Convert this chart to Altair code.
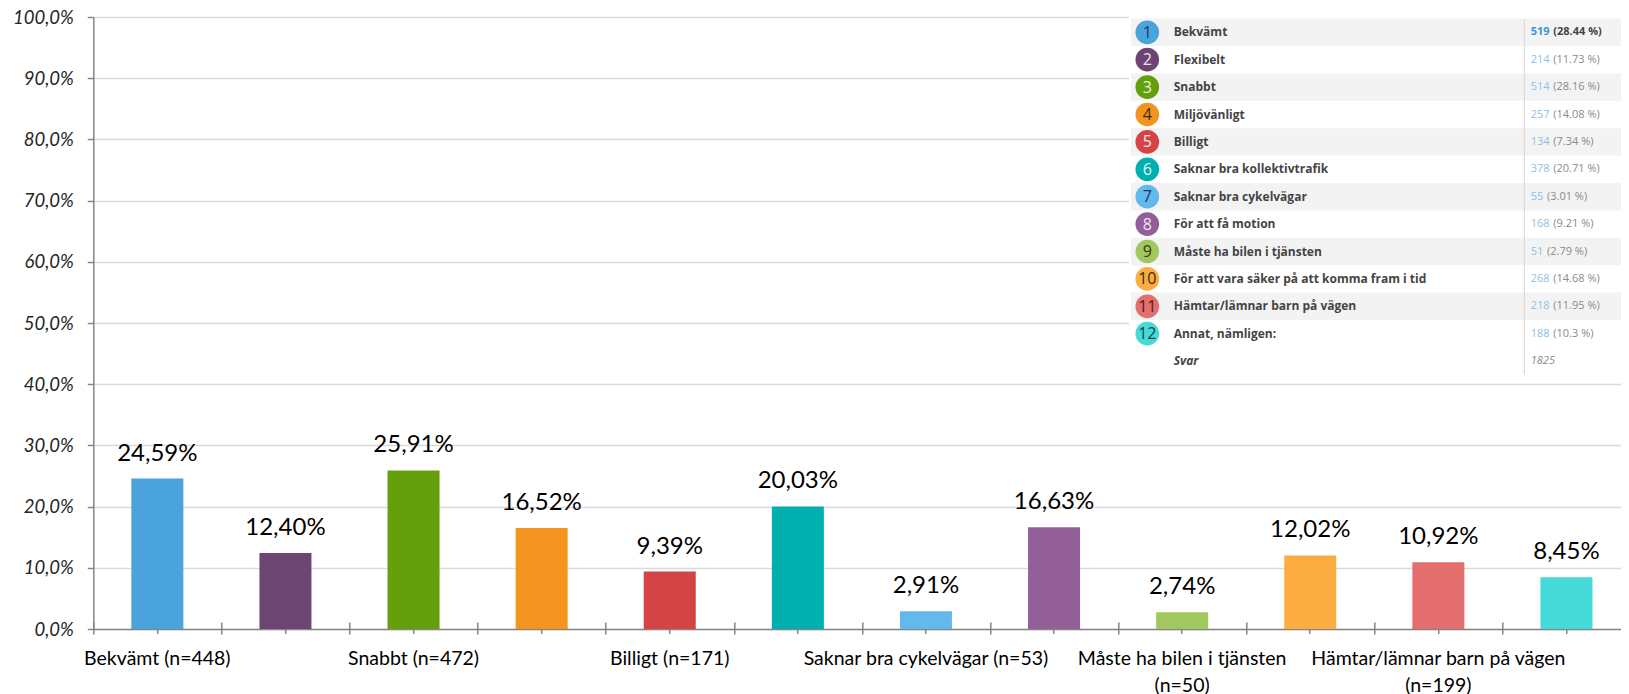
import altair as alt
import pandas as pd
import json

# ---------------- data ----------------
categories = [
    "Bekvämt", "Flexibelt", "Snabbt", "Miljövänligt", "Billigt",
    "Saknar bra kollektivtrafik", "Saknar bra cykelvägar", "För att få motion",
    "Måste ha bilen i tjänsten", "För att vara säker på att komma fram i tid",
    "Hämtar/lämnar barn på vägen", "Annat, nämligen:",
]
axis_labels = [
    "Bekvämt (n=448)", "", "Snabbt (n=472)", "", "Billigt (n=171)", "",
    "Saknar bra cykelvägar (n=53)", "", "Måste ha bilen i tjänsten|(n=50)", "",
    "Hämtar/lämnar barn på vägen|(n=199)", "",
]
shares = [24.59, 12.40, 25.91, 16.52, 9.39, 20.03, 2.91, 16.63, 2.74, 12.02, 10.92, 8.45]
y_ticks = [0.0, 0.1, 0.2, 0.3, 0.4, 0.5, 0.6, 0.7, 0.8, 0.9, 1.0]

table_counts = [519, 214, 514, 257, 134, 378, 55, 168, 51, 268, 218, 188]
table_pcts = ["28.44", "11.73", "28.16", "14.08", "7.34", "20.71", "3.01", "9.21",
              "2.79", "14.68", "11.95", "10.3"]
total_label = "Svar"
total_answers = 1825

# ---------------- styles ----------------
bar_colors = ["#4aa3da", "#6d4572", "#649f0e", "#f39421", "#d44446", "#00afaf",
              "#62b9ec", "#935f99", "#a2c75e", "#fbad42", "#e46d6d", "#45d9d8"]
circle_text_colors = ["#1d3557", "#ece2ee", "#e8f3d6", "#3b2a12", "#fbe4e4", "#e6f8f8",
                      "#1d3557", "#f1e6f3", "#2e3d12", "#3b2a12", "#4a1c1c", "#0f4545"]
AXIS_GREY = "#868686"
FONT = "Lato"
TFONT = "Open Sans"

df = pd.DataFrame({
    "cat": categories,
    "share": [s / 100 for s in shares],
    "color": bar_colors,
    "lbl": [f"{s:.2f}".replace(".", ",") + "%" for s in shares],
})

rows = list(range(len(categories) + 1))
dft = pd.DataFrame({
    "row": rows,
    "name": categories + [total_label],
    "num": [str(i + 1) for i in range(len(categories))] + [""],
    "count": [str(c) for c in table_counts] + [str(total_answers)],
    "pct": [f"({p} %)" for p in table_pcts] + [""],
    "ccolor": bar_colors + ["#ffffff"],
    "ntcolor": circle_text_colors + ["#ffffff"],
})

# ---------------- main chart ----------------
label_expr = (
    f"split({json.dumps(axis_labels, ensure_ascii=False)}"
    f"[indexof({json.dumps(categories, ensure_ascii=False)}, datum.value)], '|')"
)

xscale = alt.Scale(domain=categories, range=[0, 1537.2], paddingInner=0, paddingOuter=0)

x_main = alt.X("cat:N", sort=None, scale=xscale, title=None, axis=alt.Axis(
    orient="bottom", labelExpr=label_expr, labelFont=FONT, labelFontSize=19.5,
    labelColor="#000000", labelPadding=20, labelLineHeight=27, labelLimit=500,
    labelOverlap=False, labelAngle=0, ticks=False, tickSize=0,
    domainColor=AXIS_GREY, domainWidth=1.5, grid=False))
x_bound = alt.X("cat:N", sort=None, scale=xscale, title=None, axis=alt.Axis(
    orient="bottom", labels=False, domain=False, grid=False, ticks=True,
    tickBand="extent", tickSize=12, offset=-7, tickColor=AXIS_GREY, tickWidth=1.5))
x_center = alt.X("cat:N", sort=None, scale=xscale, title=None, axis=alt.Axis(
    orient="bottom", labels=False, domain=False, grid=False, ticks=True,
    tickBand="center", tickSize=10, offset=-5.5, tickColor=AXIS_GREY, tickWidth=1.5))

y_enc = alt.Y("share:Q", scale=alt.Scale(domain=[0, 1], nice=False, zero=True), title=None,
              axis=alt.Axis(values=y_ticks,
                            labelExpr="replace(format(datum.value, '.1%'), '.', ',')",
                            labelFont=FONT, labelFontStyle="italic", labelFontSize=18.5,
                            labelColor="#262626", labelPadding=14, tickSize=6,
                            tickColor=AXIS_GREY, tickWidth=1.5, domainColor=AXIS_GREY,
                            domainWidth=1.5, grid=True, gridColor="#d9d9d9", gridWidth=1.3,
                            zindex=0))

bars = alt.Chart(df).mark_bar(width=alt.RelativeBandSize(0.406)).encode(
    x=x_main, y=y_enc, color=alt.Color("color:N", scale=None))
values = alt.Chart(df).mark_text(baseline="alphabetic", dy=-18, font=FONT, fontSize=24,
                                 color="#000000").encode(x=x_bound, y=y_enc, text="lbl:N")
ghost = alt.Chart(df).mark_bar(opacity=0, width=alt.RelativeBandSize(0.406)).encode(
    x=x_center, y=y_enc)

main = alt.layer(bars, values, ghost).resolve_axis(x="independent")

# ---------------- response table overlay ----------------
ty = alt.Y("row:O", title=None, axis=None,
           scale=alt.Scale(type="band", domain=rows, range=[1.6, 357.8],
                           paddingInner=0, paddingOuter=0))
base_t = alt.Chart(dft)

panel = alt.Chart(pd.DataFrame({"k": [0]})).mark_rect(color="#ffffff").encode(
    x=alt.value(1035.7), x2=alt.value(1560), y=alt.value(-9.5), y2=alt.value(362))
stripes = base_t.transform_filter("datum.row % 2 == 0 && datum.row < 12").mark_rect(
    color="#f3f3f3").encode(x=alt.value(1037.7), x2=alt.value(1560), y=ty)
sep = alt.Chart(pd.DataFrame({"k": [0]})).mark_rule(color="#d4d4d4", strokeWidth=1).encode(
    x=alt.value(1431), y=alt.value(2.3), y2=alt.value(357.8))
circles = base_t.transform_filter("datum.row < 12").mark_circle(size=560, opacity=1).encode(
    x=alt.value(1054), y=ty, color=alt.Color("ccolor:N", scale=None))
nums = base_t.transform_filter("datum.row < 12").mark_text(
    font=TFONT, fontSize=16, align="center", baseline="middle", dy=0.5).encode(
    x=alt.value(1054), y=ty, text="num:N", color=alt.Color("ntcolor:N", scale=None))
names = base_t.transform_filter("datum.row < 12").mark_text(
    font=TFONT, fontSize=12, fontWeight="bold", align="left", baseline="middle",
    color="#444444").encode(x=alt.value(1080.4), y=ty, text="name:N")
svar = base_t.transform_filter("datum.row == 12").mark_text(
    font=TFONT, fontSize=12, fontWeight="bold", fontStyle="italic", align="left",
    baseline="middle", color="#444444").encode(x=alt.value(1080.4), y=ty, text="name:N")
count_top = base_t.transform_filter("datum.row == 0").mark_text(
    font=TFONT, fontSize=11, fontWeight="bold", align="left", baseline="middle",
    color="#3b93d3").encode(x=alt.value(1437.4), y=ty, text="count:N")
counts = base_t.transform_filter("datum.row > 0 && datum.row < 12").mark_text(
    font=TFONT, fontSize=11, align="left", baseline="middle",
    color="#8cc1e8").encode(x=alt.value(1437.4), y=ty, text="count:N")
total = base_t.transform_filter("datum.row == 12").mark_text(
    font=TFONT, fontSize=11, fontStyle="italic", align="left", baseline="middle",
    color="#8a8a8a").encode(x=alt.value(1437.4), y=ty, text="count:N")
pct_top = base_t.transform_filter("datum.row == 0").transform_calculate(
    px="1441.1 + 6.3 * length(datum.count)").mark_text(
    font=TFONT, fontSize=11, fontWeight="bold", align="left", baseline="middle",
    color="#444444").encode(x=alt.X("px:Q", scale=None), y=ty, text="pct:N")
pcts = base_t.transform_filter("datum.row > 0 && datum.row < 12").transform_calculate(
    px="1441.1 + 6.3 * length(datum.count)").mark_text(
    font=TFONT, fontSize=11, align="left", baseline="middle",
    color="#8a8a8a").encode(x=alt.X("px:Q", scale=None), y=ty, text="pct:N")

table = alt.layer(panel, stripes, sep, circles, nums, names, svar,
                  count_top, counts, total, pct_top, pcts)

chart = alt.layer(main, table).resolve_scale(x="independent", y="independent").properties(
    width=1527.7, height=612,
    padding={"left": 85.3, "top": 9, "right": 0, "bottom": 65},
    autosize=alt.AutoSizeParams(type="none"),
    background="#ffffff",
).configure_view(stroke=None)

chart.save("out.html", embed_options={"renderer": "svg", "actions": False})
